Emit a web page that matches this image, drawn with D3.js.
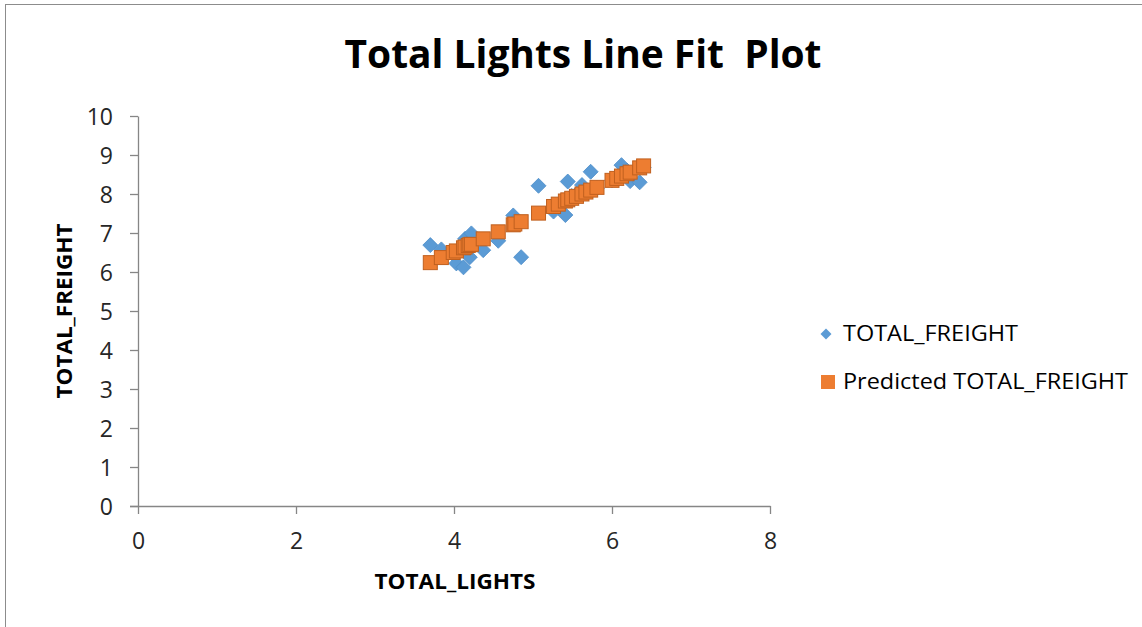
<!DOCTYPE html>
<html><head><meta charset="utf-8">
<script src="https://cdn.jsdelivr.net/npm/d3@7"></script>
<style>body{margin:0;background:#fff;}svg{display:block;font-family:"Open Sans",sans-serif;}</style>
</head><body><svg id="c" width="1142" height="627"></svg>
<script>
const totalLights = [3.70,3.84,3.99,4.03,4.12,4.14,4.18,4.20,4.22,4.37,4.56,4.75,4.77,4.85,5.07,5.26,5.32,5.41,5.44,5.49,5.55,5.62,5.67,5.73,5.81,6.00,6.06,6.12,6.19,6.23,6.35,6.40];
const totalFreight = [6.69,6.58,6.45,6.22,6.12,6.85,6.75,6.38,6.99,6.56,6.80,7.45,7.30,6.38,8.21,7.55,7.70,7.46,8.32,7.95,8.00,8.23,8.05,8.57,8.15,8.35,8.45,8.74,8.60,8.33,8.30,8.68];
const predictedFreight = [6.24,6.37,6.50,6.54,6.62,6.64,6.68,6.70,6.71,6.85,7.03,7.21,7.23,7.29,7.51,7.68,7.74,7.82,7.85,7.89,7.94,8.00,8.05,8.10,8.17,8.35,8.40,8.46,8.52,8.56,8.67,8.72];
const xTicks = [0,2,4,6,8];
const yTicks = [0,1,2,3,4,5,6,7,8,9,10];
const seriesNames = ["TOTAL_FREIGHT","Predicted TOTAL_FREIGHT"];

const svg = d3.select("#c");
svg.append("rect").attr("x",5.5).attr("y",4.5).attr("width",1150).attr("height",640)
  .attr("fill","#fff").attr("stroke","#8c8c8c").attr("stroke-width",1);

const x = d3.scaleLinear().domain([0,8]).range([138,770]);
const y = d3.scaleLinear().domain([0,10]).range([506,116]);
const axisColor = "#868686";

const gx = svg.append("g").attr("transform","translate(0,506)")
  .call(d3.axisBottom(x).tickValues(xTicks).tickSize(8).tickSizeOuter(0).tickPadding(19));
const gy = svg.append("g").attr("transform","translate(138,0)")
  .call(d3.axisLeft(y).tickValues(yTicks).tickSize(8).tickSizeOuter(0).tickPadding(17));
[gx,gy].forEach(g=>{
  g.select(".domain").attr("stroke",axisColor).attr("stroke-width",1.3);
  g.selectAll(".tick line").attr("stroke",axisColor).attr("stroke-width",1.3);
  g.selectAll(".tick text").attr("fill","#262626").attr("font-size",23).attr("font-family","Open Sans, sans-serif");
});
gx.select(".domain").attr("d","M130,0.5H770.5");
gy.selectAll(".tick text").attr("dy","0.35em");

// data
const rows = totalLights.map((v,i)=>({x:v, a:totalFreight[i], p:predictedFreight[i]}));
const dia = d3.symbol().type(d3.symbolSquare).size(112);
svg.append("g").selectAll("path").data(rows).join("path")
  .attr("d",dia).attr("transform",d=>`translate(${x(d.x)},${y(d.a)}) rotate(45)`)
  .attr("fill","#5b9bd5").attr("stroke","#4f8fca").attr("stroke-width",0.8);
const s = 14;
svg.append("g").selectAll("rect").data(rows).join("rect")
  .attr("x",d=>x(d.x)-s/2).attr("y",d=>y(d.p)-s/2).attr("width",s).attr("height",s)
  .attr("fill","#ed7d31").attr("stroke","#c0601f").attr("stroke-width",1);

// title
svg.append("text").attr("x",583).attr("y",68).attr("text-anchor","middle")
  .attr("font-family","Open Sans, sans-serif").attr("font-weight","bold").attr("font-size",39)
  .attr("textLength",477).attr("lengthAdjust","spacingAndGlyphs")
  .attr("fill","#000").style("white-space","pre").text("Total Lights Line Fit  Plot");

// axis titles
svg.append("text").attr("x",455).attr("y",589).attr("text-anchor","middle")
  .attr("font-weight","bold").attr("font-size",22).attr("textLength",161).attr("lengthAdjust","spacingAndGlyphs")
  .attr("fill","#000").text("TOTAL_LIGHTS");
svg.append("text").attr("transform","translate(72,311) rotate(-90)").attr("text-anchor","middle")
  .attr("font-weight","bold").attr("font-size",22).attr("textLength",175).attr("lengthAdjust","spacingAndGlyphs")
  .attr("fill","#000").text("TOTAL_FREIGHT");

// legend
const lg = svg.append("g");
lg.append("path").attr("d",d3.symbol().type(d3.symbolSquare).size(60)).attr("transform","translate(826,334) rotate(45)")
  .attr("fill","#5b9bd5");
lg.append("rect").attr("x",821).attr("y",375).attr("width",14).attr("height",14).attr("fill","#ed7d31");
lg.append("text").attr("x",843).attr("y",341).attr("font-size",22).attr("fill","#000")
  .attr("textLength",175).attr("lengthAdjust","spacingAndGlyphs").text(seriesNames[0]);
lg.append("text").attr("x",843).attr("y",389).attr("font-size",22).attr("fill","#000")
  .attr("textLength",285).attr("lengthAdjust","spacingAndGlyphs").text(seriesNames[1]);
</script></body></html>
